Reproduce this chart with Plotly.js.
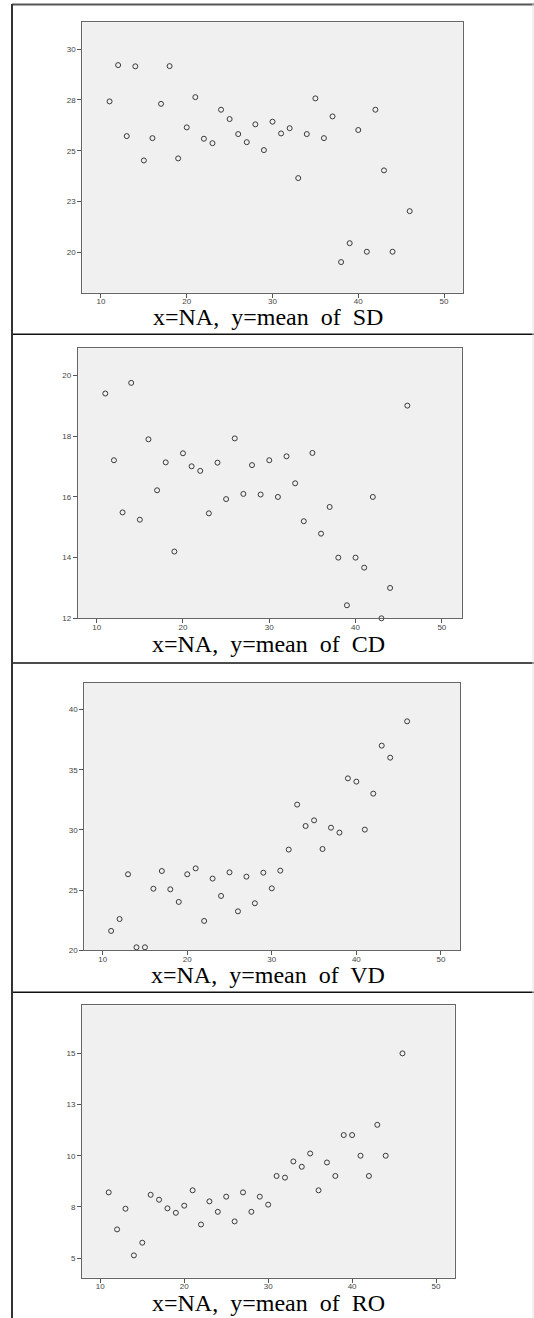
<!DOCTYPE html>
<html>
<head>
<meta charset="utf-8">
<script src="https://cdn.plot.ly/plotly-3.0.1.min.js"></script>
<style>html,body{margin:0;padding:0;background:#fff;}#chart{width:534px;height:1318px;}</style>
</head>
<body>
<div id="chart"></div>
<script>
// NA values (x) shared by all four panels
const na = [11,12,13,14,15,16,17,18,19,20,21,22,23,24,25,26,27,28,29,30,31,32,33,34,35,36,37,38,39,40,41,42,43,44,46];

const meanSD = [27.43,29.22,25.72,29.16,24.52,25.62,27.31,29.17,24.62,26.15,27.64,25.59,25.37,27.02,26.56,25.82,25.42,26.30,25.03,26.43,25.85,26.11,23.65,25.82,27.58,25.62,26.69,19.51,20.44,26.02,20.02,27.02,24.03,20.02,22.02];
const meanCD = [19.41,17.21,15.49,19.76,15.25,17.90,16.22,17.14,14.20,17.44,17.01,16.86,15.46,17.13,15.93,17.93,16.10,17.05,16.08,17.21,16.00,17.34,16.45,15.20,17.45,14.79,15.67,14.00,12.43,14.00,13.67,16.00,12.00,13.00,19.01];
const meanVD = [21.61,22.60,26.32,20.25,20.25,25.12,26.59,25.07,24.02,26.32,26.81,22.44,25.96,24.52,26.48,23.24,26.12,23.91,26.45,25.15,26.62,28.37,32.11,30.33,30.80,28.42,30.19,29.78,34.29,34.02,30.03,33.02,37.01,36.01,39.03];
const meanRO = [8.21,6.40,7.41,5.13,5.75,8.09,7.85,7.43,7.21,7.56,8.31,6.64,7.77,7.26,8.00,6.79,8.21,7.26,8.00,7.61,9.01,8.93,9.72,9.46,10.11,8.31,9.67,9.01,11.01,11.01,10.00,9.01,11.51,10.00,15.00];

const titles = ["x=NA,  y=mean  of  SD", "x=NA,  y=mean  of  CD", "x=NA,  y=mean  of  VD", "x=NA,  y=mean  of  RO"];

const xTickVals = [10,20,30,40,50];
const xTickText = ["10","20","30","40","50"];
const sdTickVals = [20,22.5,25,27.5,30];
const sdTickText = ["20","23","25","28","30"];
const cdTickVals = [12,14,16,18,20];
const cdTickText = ["12","14","16","18","20"];
const vdTickVals = [20,25,30,35,40];
const vdTickText = ["20","25","30","35","40"];
const roTickVals = [5,7.5,10,12.5,15];
const roTickText = ["5","8","10","13","15"];

const W = 534, H = 1318;
const px = v => v / W;
const py = v => 1 - v / H;

const series = [meanSD, meanCD, meanVD, meanRO];
const yTicks = [[sdTickVals, sdTickText],[cdTickVals, cdTickText],[vdTickVals, vdTickText],[roTickVals, roTickText]];
const yRanges = [[18.0,31.33],[12.0,20.9],[20.0,42.24],[4.04,17.35]];
const xRanges = [[7.82,52.25],[7.8,52.3],[7.83,52.29],[7.82,52.22]];
const boxes = [
  {x0:82.3,x1:463.3,y0:22.3,y1:292.7},
  {x0:77.7,x1:461.7,y0:348.3,y1:618.3},
  {x0:84.3,x1:460.3,y0:682.7,y1:950.3},
  {x0:82,x1:454.7,y0:1005.3,y1:1277.7}
];
const titleY = [317, 644, 975, 1303];

const traces = [];
const layout = {
  width: W, height: H,
  margin: {l:0,r:0,t:0,b:0},
  paper_bgcolor: '#ffffff',
  showlegend: false,
  shapes: [],
  annotations: []
};

const tickFont = {family: 'Liberation Sans, Arial, sans-serif', size: 8, color: '#444'};

for (let i = 0; i < 4; i++) {
  const n = i === 0 ? '' : String(i+1);
  traces.push({
    x: na, y: series[i], type: 'scatter', mode: 'markers',
    xaxis: 'x' + n, yaxis: 'y' + n,
    marker: {symbol: 'circle-open', size: 5, color: '#3a3a3a', line: {width: 1, color: '#3a3a3a'}},
    hoverinfo: 'x+y', cliponaxis: false
  });
  const b = boxes[i];
  layout['xaxis' + n] = {
    domain: [px(b.x0), px(b.x1)], anchor: 'y' + n, range: xRanges[i],
    tickmode: 'array', tickvals: xTickVals, ticktext: xTickText,
    ticks: 'outside', ticklen: 4, tickwidth: 1, tickcolor: '#555',
    ticklabelstandoff: -3,
    showline: true, linecolor: '#666', linewidth: 1, mirror: true,
    showgrid: false, zeroline: false, tickfont: tickFont, fixedrange: true
  };
  layout['yaxis' + n] = {
    domain: [py(b.y1), py(b.y0)], anchor: 'x' + n, range: yRanges[i],
    tickmode: 'array', tickvals: yTicks[i][0], ticktext: yTicks[i][1],
    ticks: 'outside', ticklen: 4, tickwidth: 1, tickcolor: '#555',
    showline: true, linecolor: '#666', linewidth: 1, mirror: true,
    showgrid: false, zeroline: false, tickfont: tickFont, fixedrange: true
  };
  layout.shapes.push({
    type: 'rect', xref: 'paper', yref: 'paper', layer: 'below',
    x0: px(b.x0), x1: px(b.x1), y0: py(b.y1), y1: py(b.y0),
    fillcolor: '#f0f0f0', line: {width: 0}
  });
  layout.annotations.push({
    xref: 'paper', yref: 'paper', x: px(268), y: py(titleY[i]),
    xanchor: 'center', yanchor: 'middle', showarrow: false, borderpad: 0,
    text: titles[i],
    font: {family: 'Liberation Serif, Times New Roman, serif', size: 24, color: '#000'}
  });
}

// table lines
const lines = [
  {x0:12,x1:534,y0:4.5,y1:4.5,c:'#555',w:2},
  {x0:12,x1:534,y0:334.3,y1:334.3,c:'#111',w:1.5},
  {x0:12,x1:534,y0:663,y1:663,c:'#111',w:1.5},
  {x0:12,x1:534,y0:992.3,y1:992.3,c:'#111',w:1.5},
  {x0:12,x1:12,y0:4,y1:1318,c:'#333',w:2},
  {x0:533,x1:533,y0:4,y1:1318,c:'#e4e4e4',w:1}
];
lines.forEach(l => layout.shapes.push({
  type: 'line', xref: 'paper', yref: 'paper',
  x0: px(l.x0), x1: px(l.x1), y0: py(l.y0), y1: py(l.y1),
  line: {color: l.c, width: l.w}
}));

Plotly.newPlot('chart', traces, layout, {displayModeBar: false, staticPlot: true});
</script>
</body>
</html>
